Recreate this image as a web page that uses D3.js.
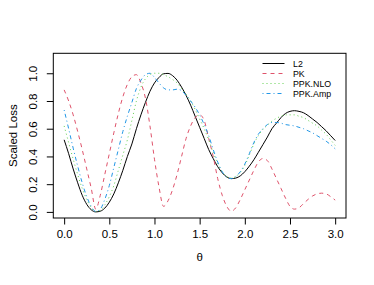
<!DOCTYPE html>
<html><head><meta charset="utf-8">
<script src="https://cdn.jsdelivr.net/npm/d3@7"></script>
<style>body{margin:0;background:#fff}svg{display:block}text{font-family:"Liberation Sans",Arial,sans-serif;fill:#000}</style>
</head><body><svg id="c" width="374" height="285"></svg>
<script>
const theta = d3.range(0, 61).map(i => +(i*0.05).toFixed(2));
const L2 = [0.52,0.42,0.31,0.21,0.12,0.055,0.015,0.0,0.005,0.027,0.07,0.13,0.21,0.30,0.40,0.49,0.60,0.70,0.79,0.87,0.93,0.97,0.996,0.999,0.983,0.95,0.90,0.84,0.77,0.69,0.61,0.53,0.45,0.385,0.326,0.282,0.252,0.24,0.244,0.26,0.29,0.33,0.376,0.43,0.485,0.54,0.60,0.64,0.68,0.71,0.725,0.73,0.725,0.715,0.695,0.67,0.645,0.615,0.585,0.55,0.515];
const PK = [0.88,0.80,0.70,0.58,0.45,0.31,0.17,0.02,0.12,0.27,0.42,0.57,0.71,0.83,0.92,0.975,0.99,0.93,0.82,0.62,0.38,0.18,0.04,0.08,0.16,0.27,0.40,0.53,0.62,0.68,0.70,0.66,0.53,0.40,0.24,0.12,0.04,0.005,0.03,0.09,0.16,0.23,0.30,0.36,0.385,0.37,0.31,0.24,0.17,0.10,0.04,0.02,0.03,0.06,0.09,0.115,0.13,0.135,0.13,0.11,0.085];
const NLO = [0.62,0.50,0.38,0.27,0.17,0.09,0.03,0.003,0.01,0.05,0.11,0.19,0.30,0.41,0.52,0.66,0.80,0.90,0.96,0.99,1.0,1.0,0.99,0.975,0.955,0.93,0.89,0.85,0.80,0.74,0.67,0.60,0.52,0.43,0.35,0.29,0.255,0.245,0.255,0.285,0.335,0.41,0.49,0.55,0.595,0.625,0.655,0.675,0.69,0.70,0.70,0.70,0.69,0.68,0.66,0.64,0.62,0.59,0.56,0.52,0.48];
const AMP = [0.735,0.60,0.46,0.33,0.21,0.11,0.04,0.003,0.02,0.09,0.19,0.32,0.45,0.58,0.69,0.79,0.89,0.95,0.99,1.0,0.97,0.93,0.895,0.88,0.88,0.885,0.875,0.84,0.80,0.755,0.70,0.63,0.55,0.45,0.36,0.29,0.25,0.24,0.255,0.29,0.345,0.42,0.50,0.56,0.60,0.63,0.645,0.645,0.64,0.63,0.625,0.62,0.61,0.60,0.585,0.57,0.55,0.53,0.51,0.485,0.455];
const seriesNames = ["L2","PK","PPK.NLO","PPK.Amp"];
const seriesColors = ["#000000","#DF536B","#61D04F","#2297E6"];
const seriesDash = [null,"4,4","1,3","1,3,4,3"];
const xTicks = [0,0.5,1,1.5,2,2.5,3];
const yTicks = [0,0.2,0.4,0.6,0.8,1.0];

const svg = d3.select("#c");
const L = 53.3, R = 346, T = 53.3, B = 218;
const x = d3.scaleLinear().domain([-0.12,3.12]).range([L,R]);
const y = d3.scaleLinear().domain([-0.044,1.144]).range([B,T]);
const fs = 11.5;

const xa = svg.append("g").attr("transform",`translate(0,${B})`)
  .call(d3.axisBottom(x).tickValues(xTicks).tickFormat(d3.format(".1f")).tickSize(6.5).tickPadding(5));
xa.select(".domain").remove();
xa.selectAll("text").style("font-size",fs+"px").attr("font-family","Liberation Sans, Arial, sans-serif");
const ya = svg.append("g").attr("transform",`translate(${L},0)`)
  .call(d3.axisLeft(y).tickValues(yTicks).tickFormat(d3.format(".1f")).tickSize(6.5));
ya.select(".domain").remove();
ya.selectAll("text").attr("transform", d => `rotate(-90,0,0)`)
  .attr("x", d => -y(d)).attr("y", -20).attr("dy","0.35em").attr("text-anchor","middle")
  .attr("transform", d => `translate(0,0) rotate(-90)`)
  .style("font-size",fs+"px").attr("font-family","Liberation Sans, Arial, sans-serif");
ya.selectAll(".tick").each(function(d){
  const g = d3.select(this);
  g.select("text").attr("transform","rotate(-90)").attr("x",0).attr("y",-20.5).attr("dy","0.35em");
});

const data = [L2,PK,NLO,AMP];
const line = d3.line().x((d,i)=>x(theta[i])).y(d=>y(d)).curve(d3.curveMonotoneX);
data.forEach((s,k)=>{
  svg.append("path").datum(s).attr("d",line).attr("fill","none")
    .attr("stroke",seriesColors[k]).attr("stroke-width",1)
    .attr("stroke-dasharray",seriesDash[k]);
});

svg.append("rect").attr("x",L).attr("y",T).attr("width",R-L).attr("height",B-T)
  .attr("fill","none").attr("stroke","#000").attr("stroke-width",1);

svg.append("text").attr("x",(L+R)/2).attr("y",261).attr("text-anchor","middle")
  .style("font-size",fs+"px").text("θ");
svg.append("text").attr("transform",`translate(17,${(T+B)/2}) rotate(-90)`).attr("text-anchor","middle")
  .style("font-size",fs+"px").text("Scaled Loss");

const leg = svg.append("g");
seriesNames.forEach((n,k)=>{
  const yy = 63.5 + k*10;
  leg.append("line").attr("x1",262.5).attr("x2",284.5).attr("y1",yy).attr("y2",yy)
    .attr("stroke",seriesColors[k]).attr("stroke-width",1).attr("stroke-dasharray",seriesDash[k]);
  leg.append("text").attr("x",293).attr("y",yy).attr("dy","0.35em").style("font-size","8.8px").text(n);
});
</script></body></html>
